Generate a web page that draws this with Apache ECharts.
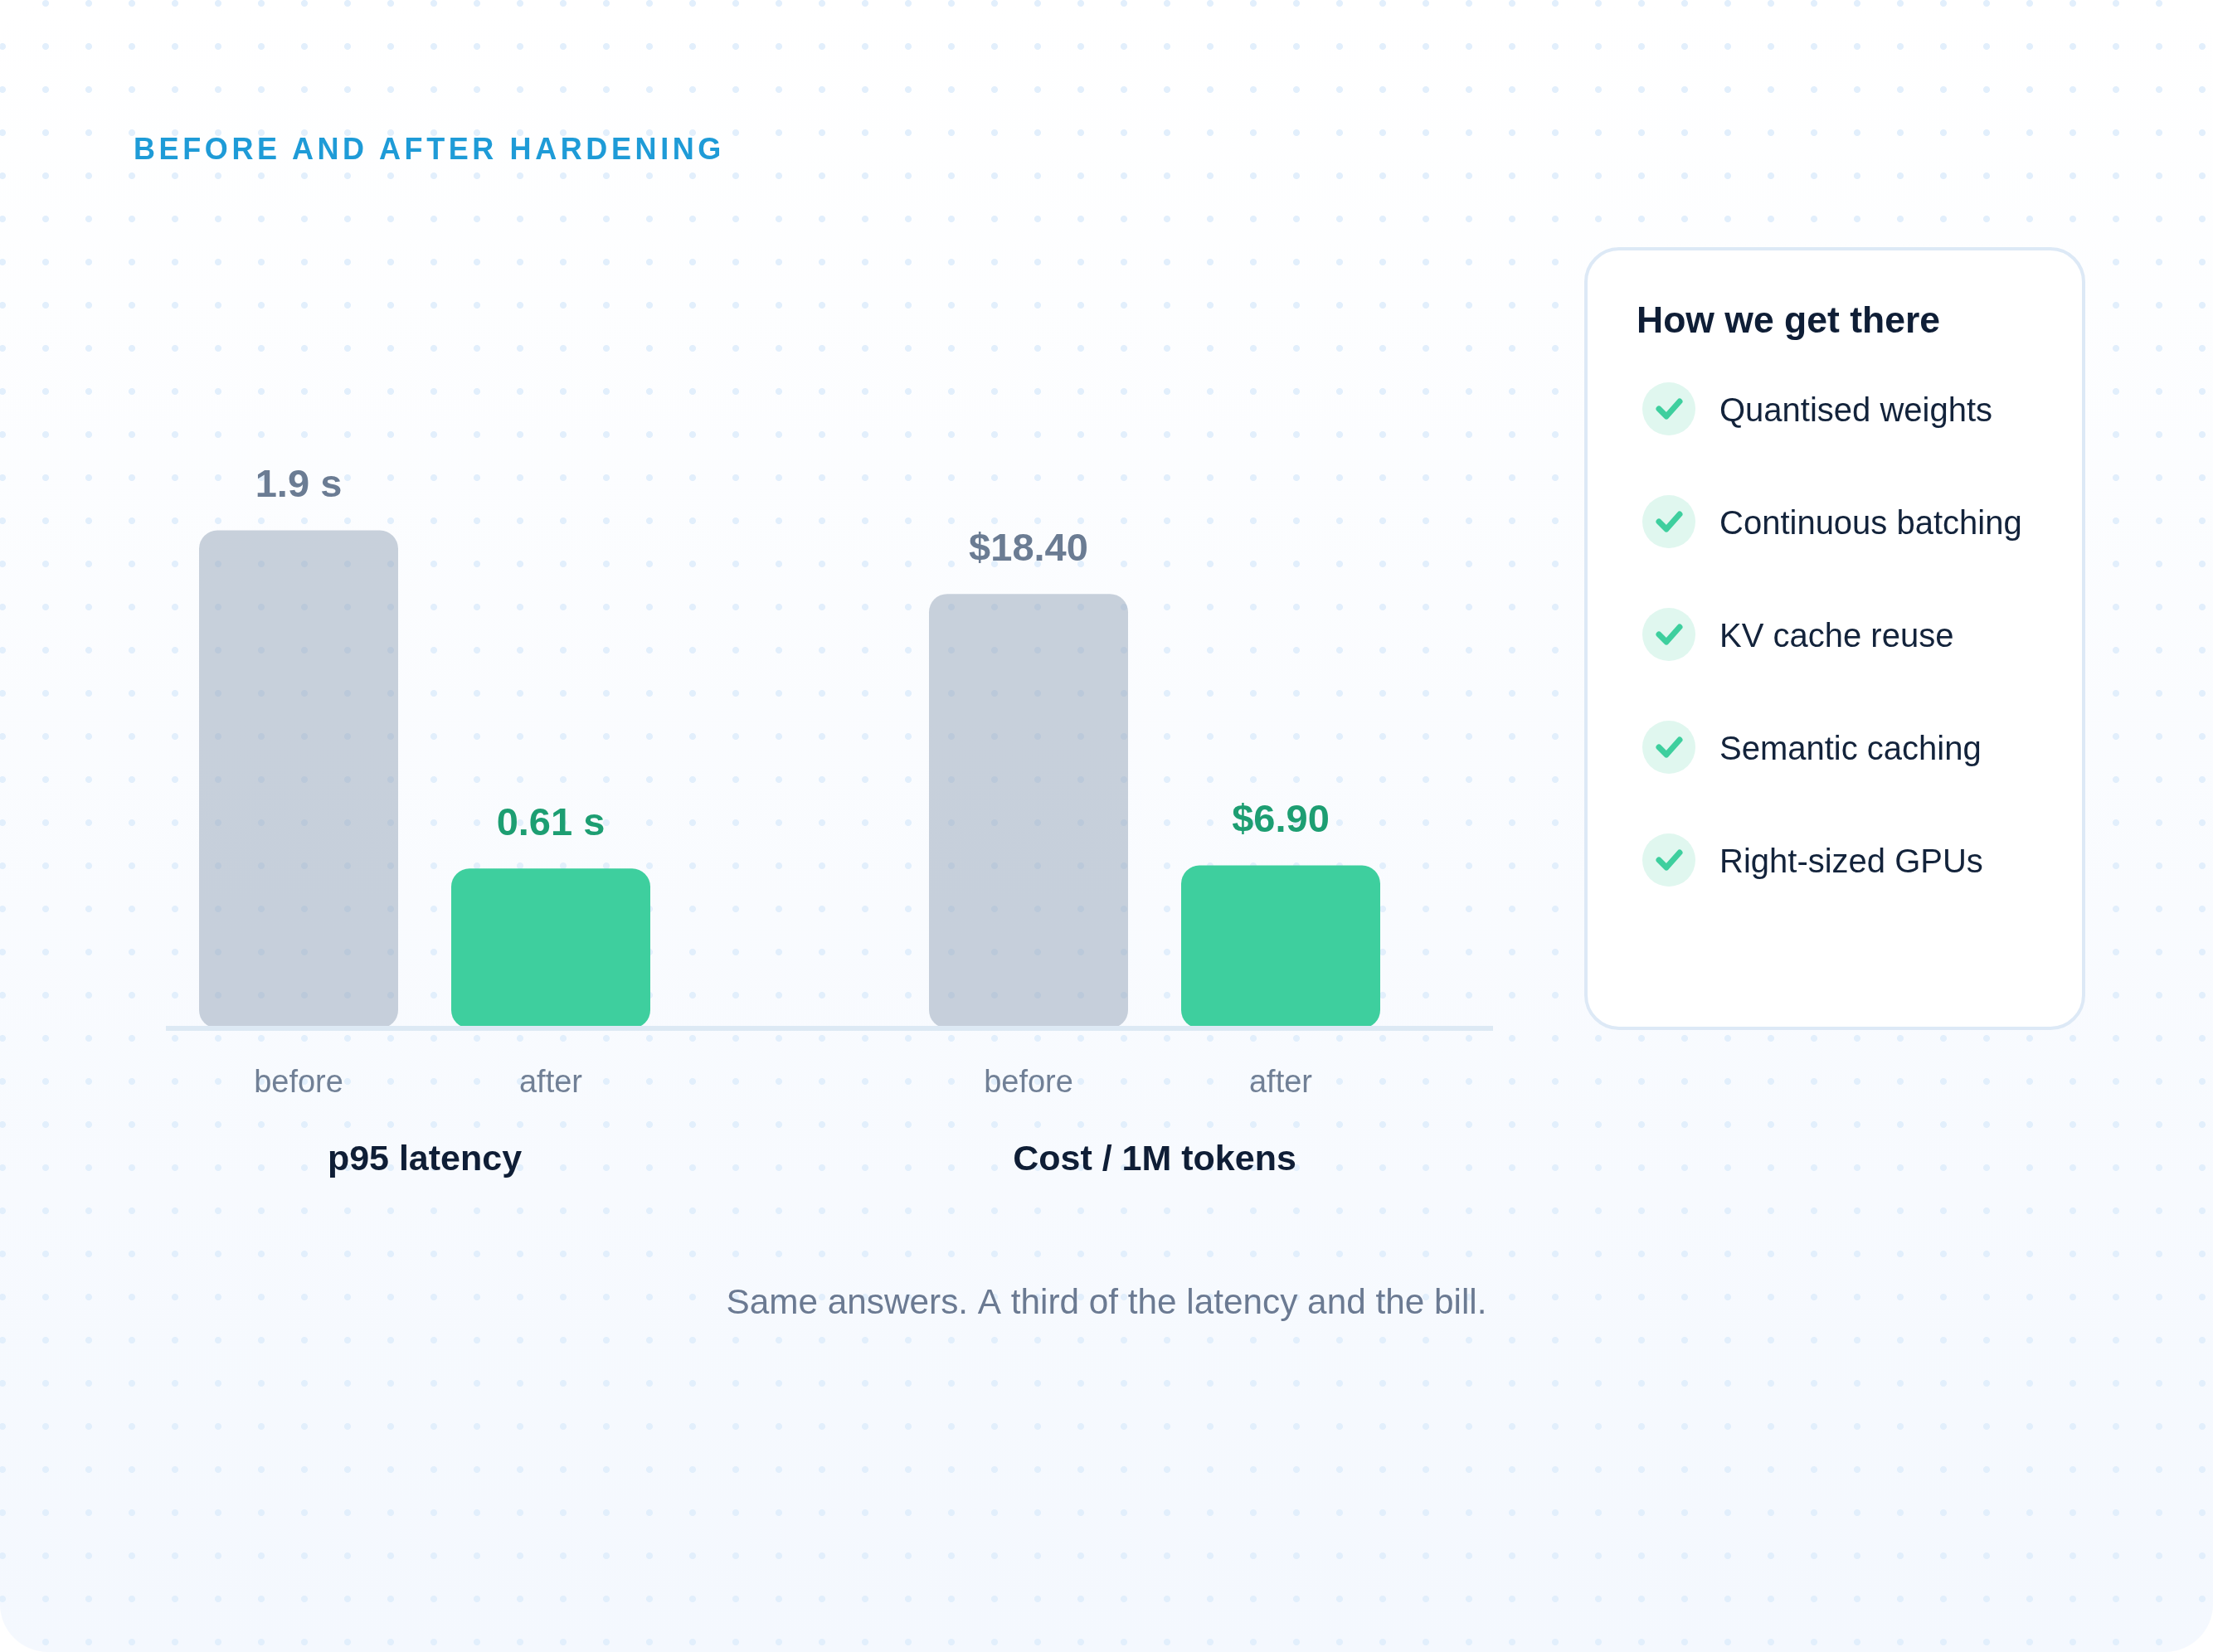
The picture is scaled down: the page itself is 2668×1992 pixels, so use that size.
<!DOCTYPE html>
<html>
<head>
<meta charset="utf-8">
<script src="https://cdn.jsdelivr.net/npm/echarts@6/dist/echarts.min.js"></script>
<style>
  html, body { margin: 0; padding: 0; background: #ffffff; }
  #card {
    position: absolute; left: 0; top: 0; width: 2668px; height: 1992px;
    border-radius: 58px; overflow: hidden;
    background-image:
      radial-gradient(circle, #e2effc 0, #e2effc 3.6px, rgba(226,239,252,0) 4.4px),
      linear-gradient(#ffffff, #f4f8fe);
    background-size: 52px 52px, 100% 100%;
    background-position: -23px -22px, 0 0;
  }
  #kicker {
    position: absolute; left: 161px; top: 162px;
    font-family: "Liberation Sans", Arial, sans-serif;
    font-weight: bold; font-size: 36px; line-height: 36px;
    letter-spacing: 4.6px; color: #1e9bd7; white-space: nowrap;
  }
  #chart { position: absolute; left: 0; top: 0; width: 2668px; height: 1992px; }
</style>
</head>
<body>
<div id="card">
  <div id="chart"></div>
  <div id="kicker">BEFORE AND AFTER HARDENING</div>
</div>
<script>
// data
const groups = ['p95 latency', 'Cost / 1M tokens'];
const phases = ['before', 'after'];
const latencyValues = [1.9, 0.61];
const costValues = [18.40, 6.90];
const latencyLabels = ['1.9 s', '0.61 s'];
const costLabels = ['$18.40', '$6.90'];
const steps = ['Quantised weights', 'Continuous batching', 'KV cache reuse', 'Semantic caching', 'Right-sized GPUs'];
const footnote = 'Same answers. A third of the latency and the bill.';
const panelTitle = 'How we get there';

const FONT = '"Liberation Sans", Arial, sans-serif';
const GREY = 'rgba(148,163,184,0.5)';
const GREEN = '#3ecf9e';

const chart = echarts.init(document.getElementById('chart'));

function barSeries(idx, values, labels) {
    return {
        type: 'bar',
        xAxisIndex: idx,
        yAxisIndex: idx,
        barWidth: 240,
        data: values.map(function (v, i) {
            return {
                value: v,
                itemStyle: { color: i === 0 ? GREY : GREEN, borderRadius: 22 },
                label: { color: i === 0 ? '#6b7c93' : '#1d9e72' }
            };
        }),
        label: {
            show: true,
            position: 'top',
            distance: 30,
            fontSize: 47,
            fontWeight: 'bold',
            fontFamily: FONT,
            formatter: function (p) { return labels[p.dataIndex]; }
        },
        silent: true
    };
}

function xAxisFor(idx) {
    return {
        type: 'category',
        gridIndex: idx,
        data: phases,
        axisLine: { show: false },
        axisTick: { show: false },
        axisLabel: { margin: 48, fontSize: 38, color: '#718096', fontFamily: FONT },
        name: groups[idx],
        nameLocation: 'middle',
        nameGap: 138,
        nameTextStyle: { fontSize: 43, fontWeight: 'bold', color: '#0f1e36', fontFamily: FONT }
    };
}

// right-hand panel
const panel = [
    {
        type: 'rect',
        shape: { x: 1912, y: 300, width: 600, height: 940, r: 40 },
        style: { fill: '#ffffff', stroke: '#dde9f6', lineWidth: 4 },
        z: 5
    },
    {
        type: 'text',
        x: 1973, y: 389,
        style: { text: panelTitle, fontSize: 44.5, fontWeight: 'bold', fontFamily: FONT, fill: '#0f1e36', textVerticalAlign: 'middle' },
        z: 6
    }
];
steps.forEach(function (s, i) {
    const cy = 493 + 136 * i;
    panel.push({
        type: 'circle', shape: { cx: 2012, cy: cy, r: 32 },
        style: { fill: '#e0f7ef' }, z: 6
    });
    panel.push({
        type: 'polyline',
        shape: { points: [[2000, cy], [2009, cy + 9], [2025, cy - 9]] },
        style: { stroke: GREEN, lineWidth: 7, lineCap: 'round', lineJoin: 'round', fill: null },
        z: 7
    });
    panel.push({
        type: 'text', x: 2073, y: cy + 4,
        style: { text: s, fontSize: 40, fontFamily: FONT, fill: '#13233b', textVerticalAlign: 'middle' },
        z: 7
    });
});

const option = {
    backgroundColor: 'transparent',
    animation: false,
    textStyle: { fontFamily: FONT },
    grid: [
        { left: 208, width: 608, top: 450, height: 790 },
        { left: 1088, width: 608, top: 450, height: 790 }
    ],
    xAxis: [xAxisFor(0), xAxisFor(1)],
    yAxis: [
        { type: 'value', gridIndex: 0, min: 0, max: 2.5, show: false },
        { type: 'value', gridIndex: 1, min: 0, max: 27.75, show: false }
    ],
    series: [
        barSeries(0, latencyValues, latencyLabels),
        barSeries(1, costValues, costLabels)
    ],
    graphic: [
        {
            type: 'line',
            shape: { x1: 200, y1: 1240, x2: 1800, y2: 1240 },
            style: { stroke: '#dde9f4', lineWidth: 6 },
            z: 10
        },
        {
            type: 'text', x: 1334, y: 1572,
            style: { text: footnote, fontSize: 42.3, fontFamily: FONT, fill: '#6b7a92', textAlign: 'center', textVerticalAlign: 'middle' },
            z: 10
        }
    ].concat(panel)
};

chart.setOption(option);
</script>
</body>
</html>
